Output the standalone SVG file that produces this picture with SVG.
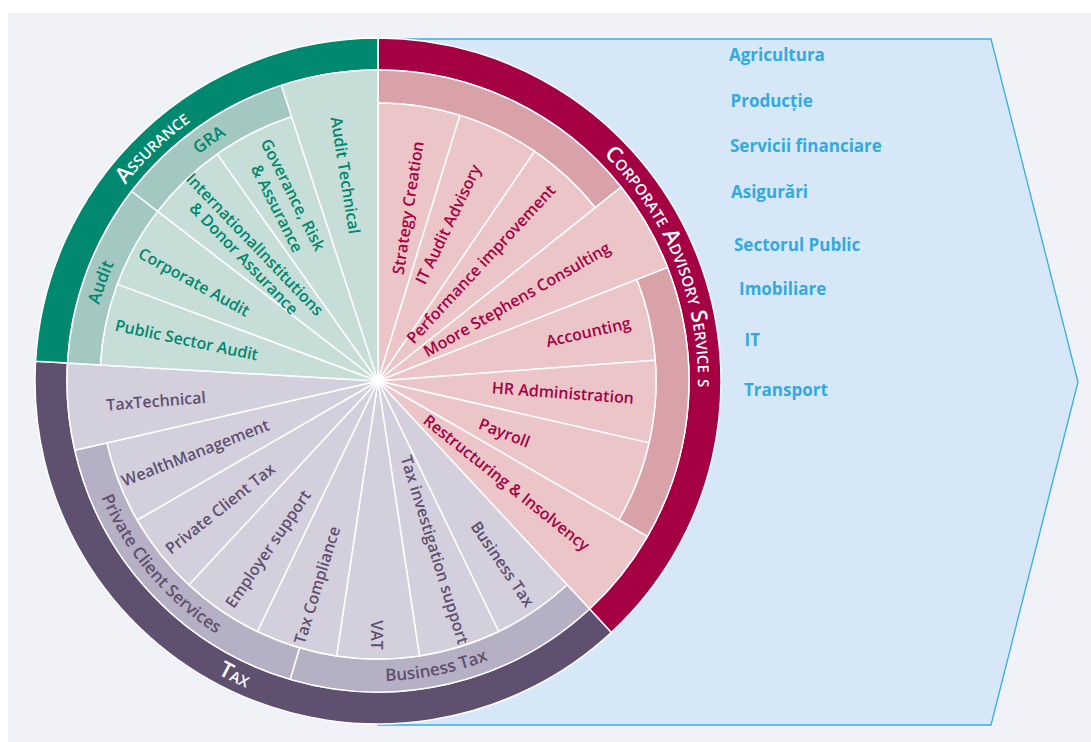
<svg xmlns="http://www.w3.org/2000/svg" width="1091" height="742" viewBox="0 0 1091 742">
<style>
.seg{stroke:#fff;stroke-width:1.5;stroke-linejoin:round}
.a0{fill:#00896f}.a1{fill:#a2c8c1}.a2{fill:#c6ddd8}
.c0{fill:#a50043}.c1{fill:#d9a1a8}.c2{fill:#ebc5c8}
.t0{fill:#5f506f}.t1{fill:#b6b0c4}.t2{fill:#d4cfdd}
text{font-family:"Open Sans","Noto Sans","Liberation Sans",sans-serif;font-weight:600}
.lb{font-size:16px;text-anchor:middle;dominant-baseline:central}
.ta{fill:#00876e}.tc{fill:#a50043}.tt{fill:#5f506f}
.ring{fill:#fff;font-size:22px;text-anchor:middle;font-variant:small-caps}
.sub{font-size:17px;text-anchor:middle}
.ind{font-weight:700;font-size:17px;fill:#34a9e0}
</style>
<defs>
<path id="pAss" d="M67.50 458.41 A320 320 0 0 1 466.20 73.40"/>
<path id="pCas" d="M422.53 64.11 A320 320 0 0 1 630.16 578.01"/>
<path id="pTax" d="M44.81 404.30 A334 334 0 0 0 564.77 657.90"/>
<path id="pGra" d="M90.10 406.19 A289 289 0 0 1 500.14 119.08"/>
<path id="pAud" d="M157.91 568.31 A289 289 0 0 1 325.83 96.75"/>
<path id="pPcs" d="M95.91 278.89 A300 300 0 0 0 430.61 676.35"/>
<path id="pBt" d="M153.31 579.79 A300 300 0 0 0 662.50 476.19"/>
</defs>
<rect x="0" y="0" width="1091" height="742" fill="#ffffff"/>
<rect x="8" y="13" width="1083" height="729" fill="#f0f2f7"/>
<g id="industries">
<polygon points="378,39 991,39 1078,382 991,725 378,725" fill="#d6e8f7" stroke="#39ace2" stroke-width="1.3"/>
<text class="ind" x="729" y="61">Agricultura</text>
<text class="ind" x="730.5" y="107">Producție</text>
<text class="ind" x="730" y="152">Servicii financiare</text>
<text class="ind" x="731" y="197.5">Asigurări</text>
<text class="ind" x="734" y="250.5">Sectorul Public</text>
<text class="ind" x="739" y="295">Imobiliare</text>
<text class="ind" x="744.5" y="346">IT</text>
<text class="ind" x="744" y="396">Transport</text>
</g>
<g id="corporate-advisory">
<path class="seg c0" d="M378 38 A343 343 0 0 1 611.30 632.44 L589.53 608.98 A311 311 0 0 0 378 70 Z"/>
<path class="seg c1" d="M378 70 A311 311 0 0 1 621.15 187.09 L595.35 207.67 A278 278 0 0 0 378 103 Z"/>
<path class="seg c1" d="M667.50 267.38 A311 311 0 0 1 647.33 536.5 L618.76 520 A278 278 0 0 0 636.78 279.44 Z"/>
<path class="seg c2" d="M378 381 L378 103 A278 278 0 0 1 459.94 115.35 Z"/>
<path class="seg c2" d="M378 381 L459.94 115.35 A278 278 0 0 1 534.60 151.31 Z"/>
<path class="seg c2" d="M378 381 L534.60 151.31 A278 278 0 0 1 595.35 207.67 Z"/>
<path class="seg c2" d="M378 381 L621.15 187.09 A311 311 0 0 1 667.50 267.38 Z"/>
<path class="seg c2" d="M378 381 L636.78 279.44 A278 278 0 0 1 655.22 360.22 Z"/>
<path class="seg c2" d="M378 381 L655.22 360.22 A278 278 0 0 1 649.03 442.86 Z"/>
<path class="seg c2" d="M378 381 L649.03 442.86 A278 278 0 0 1 618.76 520 Z"/>
<path class="seg c2" d="M378 381 L647.33 536.5 A311 311 0 0 1 589.53 608.98 Z"/>
<text class="ring"><textPath href="#pCas" startOffset="50%">Corporate Advisory Service s</textPath></text>
<text class="lb tc" transform="translate(407.7,207.8) rotate(-81.4)">Strategy Creation</text>
<text class="lb tc" transform="translate(447.8,224.2) rotate(-64.3)">IT Audit Advisory</text>
<text class="lb tc" transform="translate(480.8,263.8) rotate(-47.1)">Performance improvement</text>
<text class="lb tc" transform="translate(516.7,299.2) rotate(-30)">Moore Stephens Consulting</text>
<text class="lb tc" transform="translate(588.3,331.7) rotate(-12.9)">Accounting</text>
<text class="lb tc" transform="translate(563,392.5) rotate(4.3)">HR Administration</text>
<text class="lb tc" transform="translate(504.5,432.5) rotate(21.4)">Payroll</text>
<text class="lb tc" transform="translate(506.7,482.5) rotate(38.6)">Restructuring &amp; Insolvency</text>
</g>
<g id="tax">
<path class="seg t0" d="M611.30 632.44 A343 343 0 0 1 35.57 361.26 L67.52 363.10 A311 311 0 0 0 589.53 608.98 Z"/>
<path class="seg t1" d="M589.53 608.98 A311 311 0 0 1 290.19 679.35 L299.51 647.69 A278 278 0 0 0 567.09 584.79 Z"/>
<path class="seg t1" d="M290.19 679.35 A311 311 0 0 1 74.80 450.20 L106.97 442.86 A278 278 0 0 0 299.51 647.69 Z"/>
<path class="seg t2" d="M378 381 L567.09 584.79 A278 278 0 0 1 498.62 631.47 Z"/>
<path class="seg t2" d="M378 381 L498.62 631.47 A278 278 0 0 1 419.43 655.89 Z"/>
<path class="seg t2" d="M378 381 L419.43 655.89 A278 278 0 0 1 336.57 655.89 Z"/>
<path class="seg t2" d="M378 381 L336.57 655.89 A278 278 0 0 1 257.38 631.47 Z"/>
<path class="seg t2" d="M378 381 L257.38 631.47 A278 278 0 0 1 188.91 584.79 Z"/>
<path class="seg t2" d="M378 381 L188.91 584.79 A278 278 0 0 1 137.24 520 Z"/>
<path class="seg t2" d="M378 381 L137.24 520 A278 278 0 0 1 106.97 442.86 Z"/>
<path class="seg t2" d="M378 381 L74.80 450.20 A311 311 0 0 1 67.52 363.10 Z"/>
<text class="ring"><textPath href="#pTax" startOffset="50%">Tax</textPath></text>
<text class="sub tt"><textPath href="#pPcs" startOffset="50%">Private Client Services</textPath></text>
<text class="sub tt"><textPath href="#pBt" startOffset="50%">Business Tax</textPath></text>
<text class="lb tt" transform="translate(502.8,563.8) rotate(55.7)">Business Tax</text>
<text class="lb tt" transform="translate(435,549.7) rotate(72.9)">Tax investigation support</text>
<text class="lb tt" transform="translate(377,635) rotate(90)">VAT</text>
<text class="lb tt" transform="translate(316.7,585) rotate(-72.9)">Tax Compliance</text>
<text class="lb tt" transform="translate(267.8,548.8) rotate(-55.7)">Employer support</text>
<text class="lb tt" transform="translate(220,508.3) rotate(-38.6)">Private Client Tax</text>
<text class="lb tt" transform="translate(195.3,452.5) rotate(-21.4)">WealthManagement</text>
<text class="lb tt" transform="translate(156,400.8) rotate(-4.5)">TaxTechnical</text>
</g>
<g id="assurance">
<path class="seg a0" d="M35.57 361.26 A343 343 0 0 1 378 38 L378 70 A311 311 0 0 0 67.52 363.10 Z"/>
<path class="seg a1" d="M67.52 363.10 A311 311 0 0 1 131.60 191.24 L157.74 211.38 A278 278 0 0 0 100.46 365.00 Z"/>
<path class="seg a1" d="M131.60 191.24 A311 311 0 0 1 281.38 85.39 L291.63 116.76 A278 278 0 0 0 157.74 211.38 Z"/>
<path class="seg a2" d="M378 381 L100.46 365.00 A278 278 0 0 1 117.44 284.10 Z"/>
<path class="seg a2" d="M378 381 L117.44 284.10 A278 278 0 0 1 157.74 211.38 Z"/>
<path class="seg a2" d="M378 381 L157.74 211.38 A278 278 0 0 1 217.35 154.11 Z"/>
<path class="seg a2" d="M378 381 L217.35 154.11 A278 278 0 0 1 291.63 116.76 Z"/>
<path class="seg a2" d="M378 381 L281.38 85.39 A311 311 0 0 1 378 70 Z"/>
<text class="ring"><textPath href="#pAss" startOffset="50%">Assurance</textPath></text>
<text class="sub ta"><textPath href="#pGra" startOffset="50%">GRA</textPath></text>
<text class="sub ta"><textPath href="#pAud" startOffset="50%">Audit</textPath></text>
<text class="lb ta" transform="translate(345.7,175.3) rotate(81)">Audit Technical</text>
<text class="lb ta" transform="translate(293.3,194.7) rotate(63.3)">Goverance, Risk</text>
<text class="lb ta" transform="translate(277.3,208.3) rotate(63.3)">&amp; Assurance</text>
<text class="lb ta" transform="translate(255,244.2) rotate(46.2)">InternationalInstitutions</text>
<text class="lb ta" transform="translate(244.2,258.3) rotate(46.2)">&amp; Donor Assurance</text>
<text class="lb ta" transform="translate(194.2,281.7) rotate(29)">Corporate Audit</text>
<text class="lb ta" transform="translate(186.7,339.7) rotate(11.9)">Public Sector Audit</text>
</g>
</svg>
